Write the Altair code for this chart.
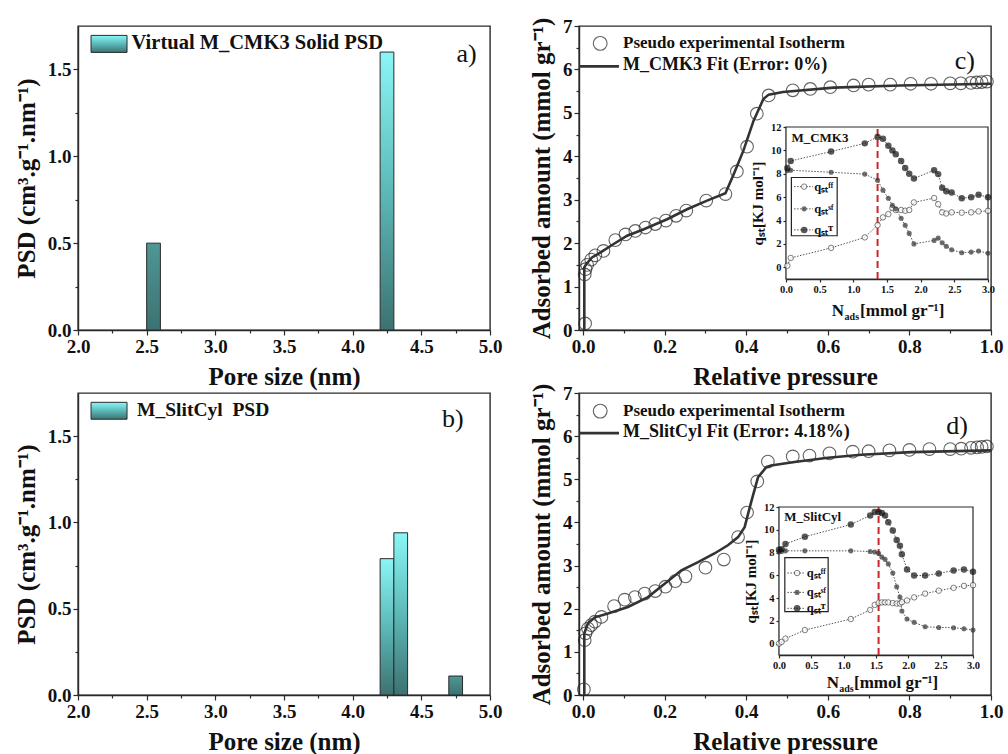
import altair as alt
import pandas as pd

FONT = "Liberation Serif"
INK = "#2a2a2a"

# ---------------- PSD histograms (panels a, b) ----------------
a_bin_start = [2.5, 4.2]
a_bin_end = [2.6, 4.3]
a_psd = [0.50, 1.60]

b_bin_start = [4.2, 4.3, 4.7]
b_bin_end = [4.3, 4.4, 4.8]
b_psd = [0.79, 0.94, 0.11]

pore_ticks = [2.0, 2.5, 3.0, 3.5, 4.0, 4.5, 5.0]
pore_minor = [2.25, 2.75, 3.25, 3.75, 4.25, 4.75]
psd_ticks = [0.0, 0.5, 1.0, 1.5]
psd_minor = [0.25, 0.75, 1.25]

# ---------------- Isotherms (panels c, d) ----------------
c_exp_p = [0.005, 0.004, 0.006, 0.010, 0.020, 0.030, 0.050, 0.079, 0.104, 0.128, 0.153, 0.177,
           0.203, 0.228, 0.253, 0.302, 0.349, 0.377, 0.402, 0.426, 0.455, 0.514, 0.557, 0.606,
           0.663, 0.700, 0.753, 0.803, 0.853, 0.900, 0.926, 0.951, 0.965, 0.977, 0.990]
c_exp_v = [0.15, 1.28, 1.40, 1.50, 1.62, 1.72, 1.82, 2.07, 2.20, 2.28, 2.36, 2.44,
           2.52, 2.63, 2.75, 2.98, 3.13, 3.65, 4.22, 4.98, 5.40, 5.52, 5.55, 5.59,
           5.63, 5.65, 5.65, 5.67, 5.67, 5.68, 5.68, 5.69, 5.70, 5.71, 5.72]
c_fit_p = [0.003, 0.003, 0.008, 0.022, 0.042, 0.075, 0.108, 0.149, 0.206, 0.255, 0.304, 0.349,
           0.369, 0.393, 0.418, 0.442, 0.455, 0.490, 0.614, 0.777, 1.000]
c_fit_v = [0.00, 1.44, 1.52, 1.67, 1.78, 1.98, 2.17, 2.32, 2.55, 2.78, 2.98, 3.15,
           3.58, 4.13, 4.82, 5.32, 5.42, 5.48, 5.58, 5.63, 5.67]

d_exp_p = [0.002, 0.004, 0.006, 0.012, 0.020, 0.029, 0.045, 0.076, 0.102, 0.127, 0.151, 0.177,
           0.202, 0.226, 0.251, 0.300, 0.345, 0.380, 0.402, 0.427, 0.453, 0.514, 0.555, 0.604,
           0.661, 0.700, 0.751, 0.800, 0.849, 0.900, 0.927, 0.951, 0.966, 0.977, 0.990]
d_exp_v = [0.13, 1.27, 1.43, 1.54, 1.62, 1.70, 1.81, 2.06, 2.21, 2.27, 2.35, 2.41,
           2.51, 2.64, 2.75, 2.95, 3.14, 3.66, 4.23, 4.95, 5.41, 5.53, 5.55, 5.60,
           5.64, 5.65, 5.67, 5.68, 5.70, 5.70, 5.71, 5.73, 5.74, 5.75, 5.76]
d_fit_p = [0.003, 0.003, 0.012, 0.029, 0.061, 0.110, 0.159, 0.200, 0.241, 0.282, 0.322, 0.355,
           0.380, 0.396, 0.412, 0.429, 0.449, 0.461, 0.518, 0.600, 0.682, 0.804, 1.000]
d_fit_v = [0.00, 1.43, 1.66, 1.80, 1.89, 2.04, 2.27, 2.58, 2.89, 3.08, 3.28, 3.47,
           3.66, 3.89, 4.47, 5.05, 5.28, 5.32, 5.40, 5.50, 5.57, 5.63, 5.67]

pressure_ticks = [0.0, 0.2, 0.4, 0.6, 0.8, 1.0]
pressure_minor = [0.1, 0.3, 0.5, 0.7, 0.9]
amount_ticks = [0, 1, 2, 3, 4, 5, 6, 7]
amount_minor = [0.5, 1.5, 2.5, 3.5, 4.5, 5.5, 6.5]

# ---------------- Insets: isosteric heat ----------------
c_n = [0.02, 0.07, 0.67, 1.17, 1.36, 1.44, 1.52, 1.58, 1.63, 1.71, 1.77, 1.83, 1.90, 2.20,
       2.26, 2.32, 2.38, 2.46, 2.61, 2.75, 2.86, 3.00]
c_q_ff = [0.14, 0.80, 1.66, 2.56, 3.61, 4.27, 4.55, 5.06, 4.90, 4.90, 4.84, 4.90, 5.55, 5.92,
          5.40, 4.70, 4.60, 4.70, 4.67, 4.70, 4.78, 4.83]
c_q_sf = [8.27, 8.30, 8.13, 7.97, 7.45, 6.60, 5.90, 5.30, 5.00, 4.20, 3.60, 2.90, 2.00, 2.30,
          2.50, 2.10, 1.80, 1.50, 1.25, 1.30, 1.40, 1.20]
c_q_tot = [8.50, 9.10, 9.90, 10.60, 11.15, 11.00, 10.40, 10.00, 9.67, 9.10, 8.50, 8.00, 7.60, 8.30,
           7.97, 6.80, 6.50, 6.40, 5.90, 6.00, 6.20, 6.00]
c_peak = [1.36]

d_n = [0.00, 0.04, 0.10, 0.40, 1.11, 1.41, 1.48, 1.54, 1.59, 1.64, 1.69, 1.76, 1.82, 1.87,
       1.90, 1.98, 2.09, 2.26, 2.47, 2.70, 2.86, 3.00]
d_q_ff = [0.00, 0.15, 0.44, 1.19, 2.16, 2.96, 3.40, 3.56, 3.62, 3.62, 3.62, 3.56, 3.52, 3.52,
          3.64, 3.79, 4.06, 4.39, 4.65, 4.90, 5.07, 5.13]
d_q_sf = [8.06, 8.09, 8.15, 8.15, 8.15, 8.09, 8.05, 7.94, 7.60, 7.40, 7.00, 6.20, 5.00, 4.10,
          2.87, 2.16, 1.87, 1.48, 1.42, 1.40, 1.30, 1.19]
d_q_tot = [8.24, 8.30, 8.74, 9.39, 10.46, 11.26, 11.56, 11.56, 11.47, 11.26, 10.67, 9.93, 9.10, 8.60,
           7.85, 6.52, 5.98, 5.98, 6.16, 6.43, 6.52, 6.31]
d_peak = [1.54]

n_ticks = [0.0, 0.5, 1.0, 1.5, 2.0, 2.5, 3.0]
q_ticks = [0, 2, 4, 6, 8, 10, 12]

GRAD_TALL = alt.Gradient(gradient="linear",
                         stops=[alt.GradientStop(color="#8af6f6", offset=0),
                                alt.GradientStop(color="#5cb9b8", offset=0.5),
                                alt.GradientStop(color="#3c7271", offset=1)],
                         x1=0, x2=0, y1=0, y2=1)
GRAD_SHORT = alt.Gradient(gradient="linear",
                          stops=[alt.GradientStop(color="#4f9795", offset=0),
                                 alt.GradientStop(color="#3c7271", offset=1)],
                          x1=0, x2=0, y1=0, y2=1)


def txt(df_x, df_y, text, xf, yf, size, weight="bold", align="left", dy=0):
    df = pd.DataFrame({"x": df_x, "y": df_y, "t": text})
    return alt.Chart(df).mark_text(align=align, baseline="middle", fontSize=size,
                                   fontWeight=weight, font=FONT, color="#111", dy=dy).encode(
        x=xf("x"), y=yf("y"), text="t:N")


def minor_layer(xs, ys, xminor, yminor):
    m = max(len(xminor), len(yminor))
    mx = xminor + [xminor[-1]] * (m - len(xminor))
    my = yminor + [yminor[-1]] * (m - len(yminor))
    df = pd.DataFrame({"mx": mx, "my": my})
    xa = alt.Axis(orient="bottom", values=xminor, labels=False, domain=False, tickSize=3, title=None)
    ya = alt.Axis(orient="left", values=yminor, labels=False, domain=False, tickSize=3, title=None)
    return alt.Chart(df).mark_point(opacity=0).encode(
        x=alt.X("mx:Q", scale=xs, axis=xa), y=alt.Y("my:Q", scale=ys, axis=ya))


def psd_panel(starts, ends, vals, legend_text, legend_size, tag, tag_pos, text_x, h):
    xs = alt.Scale(domain=[2, 5], nice=False, zero=False)
    ys = alt.Scale(domain=[0, 1.75], nice=False, zero=False)
    xax = alt.Axis(title="Pore size (nm)", values=pore_ticks, format=".1f")
    yax = alt.Axis(title="PSD (cm³.g⁻¹.nm⁻¹)", values=psd_ticks, format=".1f")

    def X(f):
        return alt.X(f"{f}:Q", scale=xs, axis=xax)

    def Y(f):
        return alt.Y(f"{f}:Q", scale=ys, axis=yax)

    df = pd.DataFrame({"start": starts, "end": ends, "psd": vals, "base": [0.0] * len(vals)})
    tall = alt.Chart(df).transform_filter("datum.psd >= 0.7").mark_rect(
        fill=GRAD_TALL, stroke=INK, strokeWidth=1).encode(x=X("start"), x2="end:Q", y=Y("psd"), y2="base:Q")
    short = alt.Chart(df).transform_filter("datum.psd < 0.7").mark_rect(
        fill=GRAD_SHORT, stroke=INK, strokeWidth=1).encode(x=X("start"), x2="end:Q", y=Y("psd"), y2="base:Q")
    sw = pd.DataFrame({"x0": [2.095], "x1": [2.357], "y0": [1.598], "y1": [1.696]})
    swatch = alt.Chart(sw).mark_rect(fill=GRAD_TALL, stroke=INK, strokeWidth=1).encode(
        x=X("x0"), x2="x1:Q", y=Y("y0"), y2="y1:Q")
    lt = txt([text_x], [1.65], [legend_text], X, Y, legend_size)
    tg = txt([tag_pos[0]], [tag_pos[1]], [tag], X, Y, 26, weight="normal", align="center")
    main = alt.layer(tall, short, swatch, lt, tg)
    minor = minor_layer(xs, ys, pore_minor, psd_minor)
    return alt.layer(main, minor).resolve_axis(x="independent", y="independent").properties(width=412, height=h)


def iso_panel(exp_p, exp_v, fit_p, fit_v, fit_label, tag, tag_pos, leg_y,
              n, qff, qsf, qtot, peak, inset_name, xr, yr, xoff, yoff, h, lbox, lentries, ntitle):
    xs = alt.Scale(domain=[-0.01, 1.0], nice=False, zero=False)
    ys = alt.Scale(domain=[0, 7], nice=False, zero=False)
    xax = alt.Axis(title="Relative pressure", values=pressure_ticks, format=".1f")
    yax = alt.Axis(title="Adsorbed amount (mmol gr⁻¹)", values=amount_ticks, format="d")

    def X(f):
        return alt.X(f"{f}:Q", scale=xs, axis=xax)

    def Y(f):
        return alt.Y(f"{f}:Q", scale=ys, axis=yax)

    exp = alt.Chart(pd.DataFrame({"p": exp_p, "v": exp_v})).mark_point(
        shape="circle", size=160, filled=False, color="#222", strokeWidth=1.1).encode(x=X("p"), y=Y("v"))
    fit = alt.Chart(pd.DataFrame({"p": fit_p, "v": fit_v, "o": list(range(len(fit_p)))})).mark_line(
        color="#333", strokeWidth=2.6).encode(x=X("p"), y=Y("v"), order="o:Q")
    leg_pt = alt.Chart(pd.DataFrame({"p": [0.042], "v": [leg_y[0]]})).mark_point(
        shape="circle", size=190, filled=False, color="#222", strokeWidth=1.1).encode(x=X("p"), y=Y("v"))
    leg_ln = alt.Chart(pd.DataFrame({"p0": [-0.01], "p1": [0.088], "v": [leg_y[1]]})).mark_rule(
        color="#333", strokeWidth=2.6).encode(x=X("p0"), x2="p1:Q", y=Y("v"))
    t1 = txt([0.098], [leg_y[0]], ["Pseudo experimental Isotherm"], X, Y, 17)
    t2 = txt([0.098], [leg_y[1] + 0.03], [fit_label], X, Y, 18)
    tg = txt([tag_pos[0]], [tag_pos[1]], [tag], X, Y, 26, weight="normal", align="center")
    main_marks = alt.layer(exp, fit, leg_pt, leg_ln, t1, t2, tg)
    minor = minor_layer(xs, ys, pressure_minor, amount_minor)
    main = alt.layer(main_marks, minor).resolve_axis(x="independent", y="independent")

    # ---- inset ----
    ixs = alt.Scale(domain=[0, 3], range=xr, nice=False, zero=False)
    iys = alt.Scale(domain=[-1, 12], range=yr, nice=False, zero=False)
    ixax = alt.Axis(orient="bottom", offset=xoff, values=n_ticks, format=".1f", title=None,
                    labelFontSize=10.5, tickSize=3, labelPadding=2)
    iyax = alt.Axis(orient="left", offset=yoff, values=q_ticks, format="d", title="qₛₜ[KJ mol⁻¹]",
                    labelFontSize=10.5, tickSize=3, labelPadding=2, titleFontSize=15, titlePadding=5)

    def IX(f):
        return alt.X(f"{f}:Q", scale=ixs, axis=ixax)

    def IY(f):
        return alt.Y(f"{f}:Q", scale=iys, axis=iyax)

    frame = alt.Chart(pd.DataFrame({"x0": [0], "x1": [3], "y0": [-1], "y1": [12]})).mark_rect(
        fill="white", stroke=INK, strokeWidth=1.2).encode(x=IX("x0"), x2="x1:Q", y=IY("y0"), y2="y1:Q")
    layers = [frame]
    styles = [
        (qff, dict(filled=False, fill="white", color="#333", size=30, strokeWidth=0.9)),
        (qsf, dict(filled=True, color="#333", size=26)),
        (qtot, dict(filled=True, color="#111", size=42)),
    ]
    for q, st in styles:
        d = pd.DataFrame({"n": n, "q": q})
        layers.append(alt.Chart(d).mark_line(color="#555", strokeWidth=1, strokeDash=[1.5, 1.5]).encode(
            x=IX("n"), y=IY("q")))
    rule = alt.Chart(pd.DataFrame({"n": peak, "y0": [-1], "y1": [12]})).mark_rule(
        color="#c8282a", strokeWidth=2, strokeDash=[7, 4]).encode(x=IX("n"), y=IY("y0"), y2="y1:Q")
    layers.append(rule)
    for q, st in styles:
        d = pd.DataFrame({"n": n, "q": q})
        layers.append(alt.Chart(d).mark_point(shape="circle", **st).encode(x=IX("n"), y=IY("q")))
    # inset legend box
    box = alt.Chart(pd.DataFrame({"x0": [lbox[0]], "x1": [lbox[1]], "y0": [lbox[2]], "y1": [lbox[3]]})).mark_rect(
        fill="white", stroke="#222", strokeWidth=1.2).encode(x=IX("x0"), x2="x1:Q", y=IY("y0"), y2="y1:Q")
    layers.append(box)
    labels = ["qₛₜᶠᶠ", "qₛₜˢᶠ", "qₛₜᵀ"]
    for (q, st), ly, lab in zip(styles, lentries, labels):
        seg = alt.Chart(pd.DataFrame({"x0": [lbox[0] + 0.04], "x1": [lbox[0] + 0.32], "y": [ly]})).mark_rule(
            color="#555", strokeWidth=1, strokeDash=[1.5, 1.5]).encode(x=IX("x0"), x2="x1:Q", y=IY("y"))
        mk = alt.Chart(pd.DataFrame({"n": [lbox[0] + 0.19], "q": [ly]})).mark_point(shape="circle", **st).encode(
            x=IX("n"), y=IY("q"))
        layers += [seg, mk, txt([lbox[0] + 0.34], [ly], [lab], IX, IY, 12.5)]
    layers.append(txt([0.08], [11.1], [inset_name], IX, IY, 13))
    # inset x title: N_ads[mmol gr-1]
    layers.append(txt([ntitle[0]], [ntitle[1]], ["N"], IX, IY, 17))
    layers.append(txt([ntitle[0] + 0.19], [ntitle[1]], ["ads"], IX, IY, 10, dy=6))
    layers.append(txt([ntitle[0] + 0.42], [ntitle[1]], ["[mmol gr⁻¹]"], IX, IY, 17))
    inset = alt.layer(*layers)

    return alt.layer(main, inset).resolve_scale(x="independent", y="independent").properties(width=412, height=h)


pa = psd_panel(a_bin_start, a_bin_end, a_psd, "Virtual M_CMK3 Solid PSD", 20.5, "a)", (4.83, 1.59), 2.39, 304)
pb = psd_panel(b_bin_start, b_bin_end, b_psd, "M_SlitCyl\u00a0 PSD", 19.5, "b)", (4.73, 1.60), 2.43, 302)

pc = iso_panel(c_exp_p, c_exp_v, c_fit_p, c_fit_v, "M_CMK3 Fit (Error: 0%)", "c)", (0.936, 6.2), (6.6, 6.07),
               c_n, c_q_ff, c_q_sf, c_q_tot, c_peak, "M_CMK3",
               [207, 409], [253, 101], 253 - 304, -207, 304,
               (0.08, 0.76, 2.7, 7.68), (6.9, 5.0, 3.2), (0.68, -3.75))
pd_ = iso_panel(d_exp_p, d_exp_v, d_fit_p, d_fit_v, "M_SlitCyl Fit (Error: 4.18%)", "d)", (0.917, 6.24), (6.58, 6.07),
                d_n, d_q_ff, d_q_sf, d_q_tot, d_peak, "M_SlitCyl",
                [200, 394], [262, 114], 262 - 302, -200, 302,
                (0.09, 0.76, 2.81, 7.56), (6.2, 4.5, 3.1), (0.74, -3.46))

chart = alt.concat(pa, pc, pb, pd_, columns=2, spacing={"row": 63, "column": 89}, bounds="flush").properties(
    padding={"left": 13, "top": 16, "right": 4, "bottom": 4}
).configure_view(stroke=INK, strokeWidth=1.4).configure_axis(
    labelFont=FONT, titleFont=FONT, labelFontWeight="bold", titleFontWeight="bold",
    labelColor="#111", titleColor="#111", domainColor=INK, tickColor=INK, domainWidth=1.4,
    tickWidth=1.2, grid=False, labelFontSize=19, titleFontSize=25, tickSize=5, labelPadding=2,
    titlePadding=8, labelFlush=False, labelOverlap=False, labelBound=False
).configure_text(font=FONT)

chart.save("out.html", embed_options={"renderer": "svg", "actions": False})
